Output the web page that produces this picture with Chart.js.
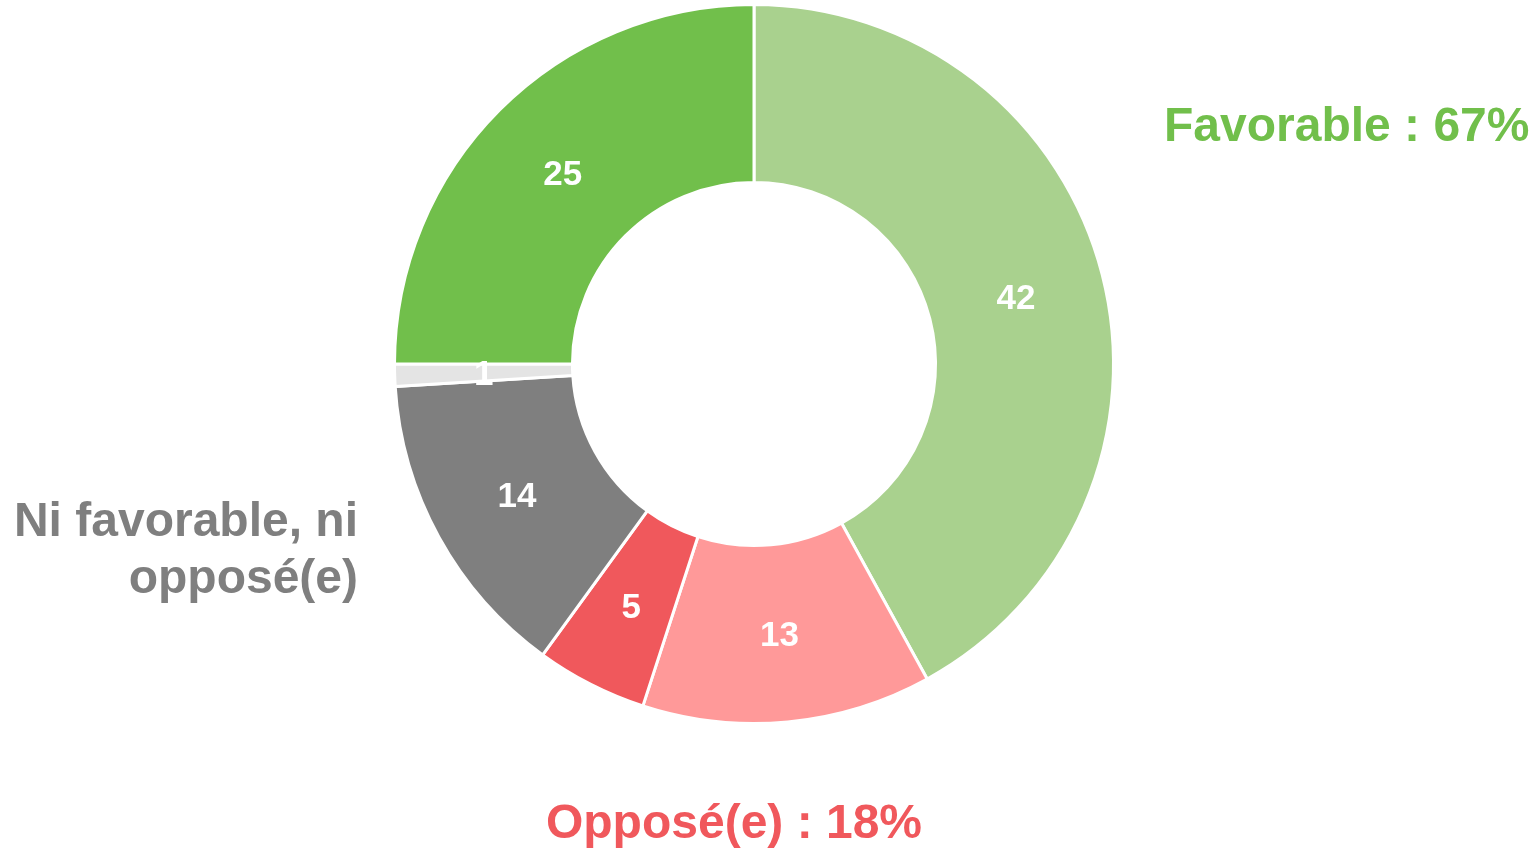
<!DOCTYPE html>
<html>
<head>
<meta charset="utf-8">
<script src="https://cdn.jsdelivr.net/npm/chart.js@4"></script>
<style>
  html, body { margin: 0; padding: 0; background: #fff; overflow: hidden; }
  #wrap { position: relative; width: 1537px; height: 851px; }
</style>
</head>
<body>
<div id="wrap"><canvas id="donut" width="1537" height="851"></canvas></div>
<script>
// Data (clockwise from the top)
const categories = ['Très favorable', 'Plutôt opposé(e)', 'Très opposé(e)', 'Ni favorable, ni opposé(e)', 'Ne sait pas', 'Plutôt favorable'];
const values = [42, 13, 5, 14, 1, 25];
const colors = ['#A9D18E', '#FF9999', '#F0585C', '#7F7F7F', '#E4E4E4', '#71BF4B'];

// Group labels outside the ring
const groupTexts = [['Favorable : 67%'], ['Ni favorable, ni', 'opposé(e)'], ['Opposé(e) : 18%']];
const groupColors = ['#71BF4B', '#7F7F7F', '#F0585C'];

// Draws the white numbers inside each slice and the group labels
const labelsPlugin = {
    id: 'labelsPlugin',
    afterDatasetsDraw(chart) {
        const ctx = chart.ctx;
        const arcs = chart.getDatasetMeta(0).data;
        ctx.save();
        ctx.fillStyle = '#fff';
        ctx.font = 'bold 35px "Liberation Sans", Arial, sans-serif';
        ctx.textAlign = 'center';
        ctx.textBaseline = 'middle';
        arcs.forEach(function (arc, i) {
            const pos = arc.tooltipPosition();
            ctx.fillText(String(values[i]), pos.x, pos.y + 3);
        });

        ctx.font = 'bold 48px "Liberation Sans", Arial, sans-serif';
        ctx.textBaseline = 'alphabetic';
        // Favorable
        ctx.fillStyle = groupColors[0];
        ctx.textAlign = 'left';
        ctx.fillText(groupTexts[0][0], 1164, 141);
        // Ni favorable, ni opposé(e)
        ctx.fillStyle = groupColors[1];
        ctx.textAlign = 'right';
        ctx.fillText(groupTexts[1][0], 358, 536);
        ctx.fillText(groupTexts[1][1], 358, 593);
        // Opposé(e)
        ctx.fillStyle = groupColors[2];
        ctx.textAlign = 'center';
        ctx.fillText(groupTexts[2][0], 734, 838);
        ctx.restore();
    }
};

const donut = new Chart(document.getElementById('donut'), {
    type: 'doughnut',
    data: {
        labels: categories,
        datasets: [{
            data: values,
            backgroundColor: colors,
            borderColor: '#fff',
            borderWidth: 3
        }]
    },
    options: {
        responsive: false,
        animation: false,
        cutout: '50.5%',
        layout: { padding: { left: 393, right: 422, top: 2, bottom: 125 } },
        plugins: {
            legend: { display: false },
            tooltip: { enabled: false }
        }
    },
    plugins: [labelsPlugin]
});
</script>
</body>
</html>
